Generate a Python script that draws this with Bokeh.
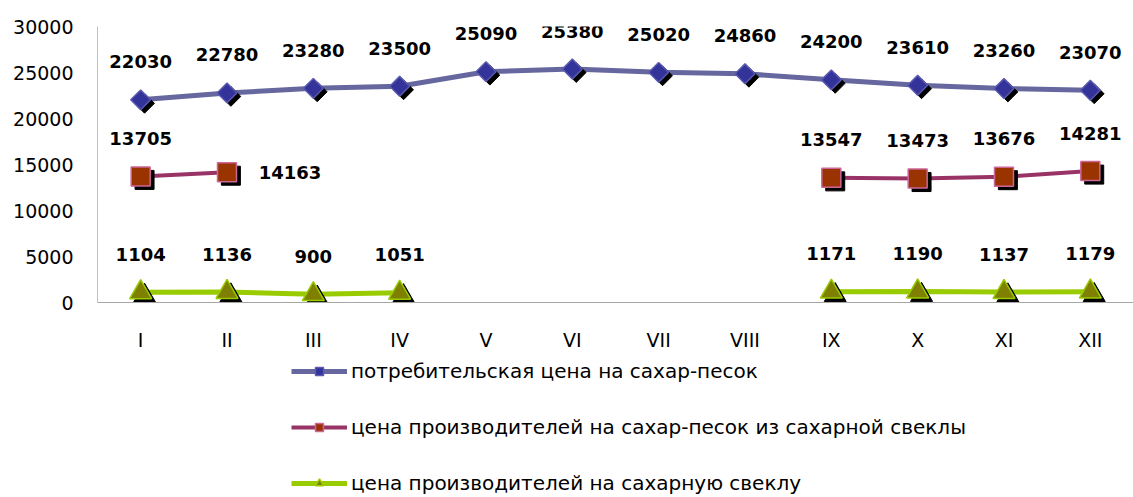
import math
from bokeh.plotting import figure
from bokeh.layouts import column
from bokeh.core.properties import value
from bokeh.models import (ColumnDataSource, FactorRange, Range1d, FixedTicker,
                          LabelSet, Legend, LegendItem)
from bokeh.transform import dodge
from bokeh.embed import file_html
from bokeh.resources import INLINE

NaN = float("nan")

months = ["I", "II", "III", "IV", "V", "VI", "VII", "VIII", "IX", "X", "XI", "XII"]
consumer_price = [22030, 22780, 23280, 23500, 25090, 25380, 25020, 24860, 24200, 23610, 23260, 23070]
producer_sugar_price = [13705, 14163, NaN, NaN, NaN, NaN, NaN, NaN, 13547, 13473, 13676, 14281]
producer_beet_price = [1104, 1136, 900, 1051, NaN, NaN, NaN, NaN, 1171, 1190, 1137, 1179]
y_ticks = [0, 5000, 10000, 15000, 20000, 25000, 30000]
series_names = [
    "потребительская цена на сахар-песок",
    "цена производителей на сахар-песок из сахарной свеклы",
    "цена производителей на сахарную свеклу",
]

p = figure(x_range=FactorRange(*months), y_range=Range1d(0, 30000),
           frame_width=1036, frame_height=276, output_backend="svg", toolbar_location=None,
           min_border_left=97, min_border_right=0, min_border_top=26, min_border_bottom=0)
p.outline_line_color = None
p.xgrid.visible = False
p.ygrid.visible = False
p.background_fill_color = "white"
p.border_fill_color = "white"

# axes
p.yaxis.ticker = FixedTicker(ticks=y_ticks)
p.yaxis.axis_line_color = "#BFBFBF"
p.yaxis.major_tick_in = 0
p.yaxis.major_tick_out = 0
p.yaxis.minor_tick_line_color = None
p.yaxis.major_label_standoff = 24
p.yaxis.major_label_text_font = "DejaVu Sans"
p.yaxis.major_label_text_font_size = "19px"
p.yaxis.major_label_text_color = "#000000"

p.xaxis.axis_line_color = "#A6A6A6"
p.xaxis.major_tick_in = 0
p.xaxis.major_tick_out = 0
p.xaxis.minor_tick_line_color = None
p.xaxis.major_label_standoff = 26
p.xaxis.major_label_text_font = "DejaVu Sans"
p.xaxis.major_label_text_font_size = "19px"
p.xaxis.major_label_text_color = "#000000"

series = [
    dict(vals=consumer_price, line="#65679E", fill="#333399", edge="#5A5AB0",
         marker="square", angle=math.pi / 4, size=14, lw=5),
    dict(vals=producer_sugar_price, line="#993366", fill="#993300", edge="#CC6699",
         marker="square", angle=0.0, size=19, lw=4),
    dict(vals=producer_beet_price, line="#99CC00", fill="#808000", edge="#99CC00",
         marker="triangle", angle=0.0, size=22, lw=5),
]

# separate strip below the chart that holds the legend
leg = figure(width=1133, height=145, output_backend="svg", toolbar_location=None,
             x_range=Range1d(0, 1), y_range=Range1d(0, 1),
             min_border_left=0, min_border_right=0, min_border_top=0, min_border_bottom=0)
leg.axis.visible = False
leg.grid.visible = False
leg.outline_line_color = None
leg.background_fill_color = "white"
leg.border_fill_color = "white"

label_font = value("DejaVu Sans")
items = []
for i, s in enumerate(series):
    src = ColumnDataSource(dict(x=months, y=s["vals"]))
    p.line("x", "y", source=src, line_color=s["line"], line_width=s["lw"])
    # shadow
    p.scatter(x=dodge("x", 0.045, range=p.x_range), y=dodge("y", -380), source=src,
              marker=s["marker"], angle=s["angle"], size=s["size"],
              fill_color="black", line_color="black")
    p.scatter("x", "y", source=src, marker=s["marker"], angle=s["angle"],
              size=s["size"], fill_color=s["fill"], line_color=s["edge"], line_width=1.5)

    # legend proxies (same styling; NaN data, so they only appear in the legend)
    proxy = ColumnDataSource(dict(x=[NaN], y=[NaN]))
    lr = leg.line("x", "y", source=proxy, line_color=s["line"], line_width=s["lw"])
    mr = leg.scatter("x", "y", source=proxy, marker=s["marker"], angle=s["angle"],
                     size=s["size"], fill_color=s["fill"], line_color=s["edge"], line_width=1.5)
    items.append(LegendItem(label=series_names[i], renderers=[lr, mr]))

    xs = [m for m, v in zip(months, s["vals"]) if not math.isnan(v)]
    ys = [v for v in s["vals"] if not math.isnan(v)]
    txt = [str(int(v)) for v in ys]
    # producer sugar: label for II sits to the right of its point
    if i == 1:
        right = [k for k, m in enumerate(xs) if m == "II"]
        above = [k for k in range(len(xs)) if k not in right]
        src_r = ColumnDataSource(dict(x=[xs[k] for k in right], y=[ys[k] for k in right],
                                      t=[txt[k] for k in right]))
        p.add_layout(LabelSet(x="x", y="y", text="t", source=src_r, x_offset=63, y_offset=0,
                              text_align="center", text_baseline="middle",
                              text_font=label_font, text_font_style="bold",
                              text_font_size="18px", text_color="black"))
        xs = [xs[k] for k in above]
        ys = [ys[k] for k in above]
        txt = [txt[k] for k in above]
    lsrc = ColumnDataSource(dict(x=xs, y=ys, t=txt))
    p.add_layout(LabelSet(x="x", y="y", text="t", source=lsrc, y_offset=38,
                          text_align="center", text_baseline="middle",
                          text_font=label_font, text_font_style="bold",
                          text_font_size="18px", text_color="black"))

legend = Legend(items=items, location=(194, 3), orientation="vertical",
                border_line_color=None, background_fill_alpha=0,
                glyph_width=56, glyph_height=20, label_height=20,
                spacing=32, padding=4, margin=0, label_standoff=4,
                label_text_font="DejaVu Sans", label_text_font_size="20px",
                label_text_color="black")
leg.add_layout(legend, "center")

layout = column(p, leg, spacing=0)
open("out.html", "w").write(file_html(layout, INLINE))
